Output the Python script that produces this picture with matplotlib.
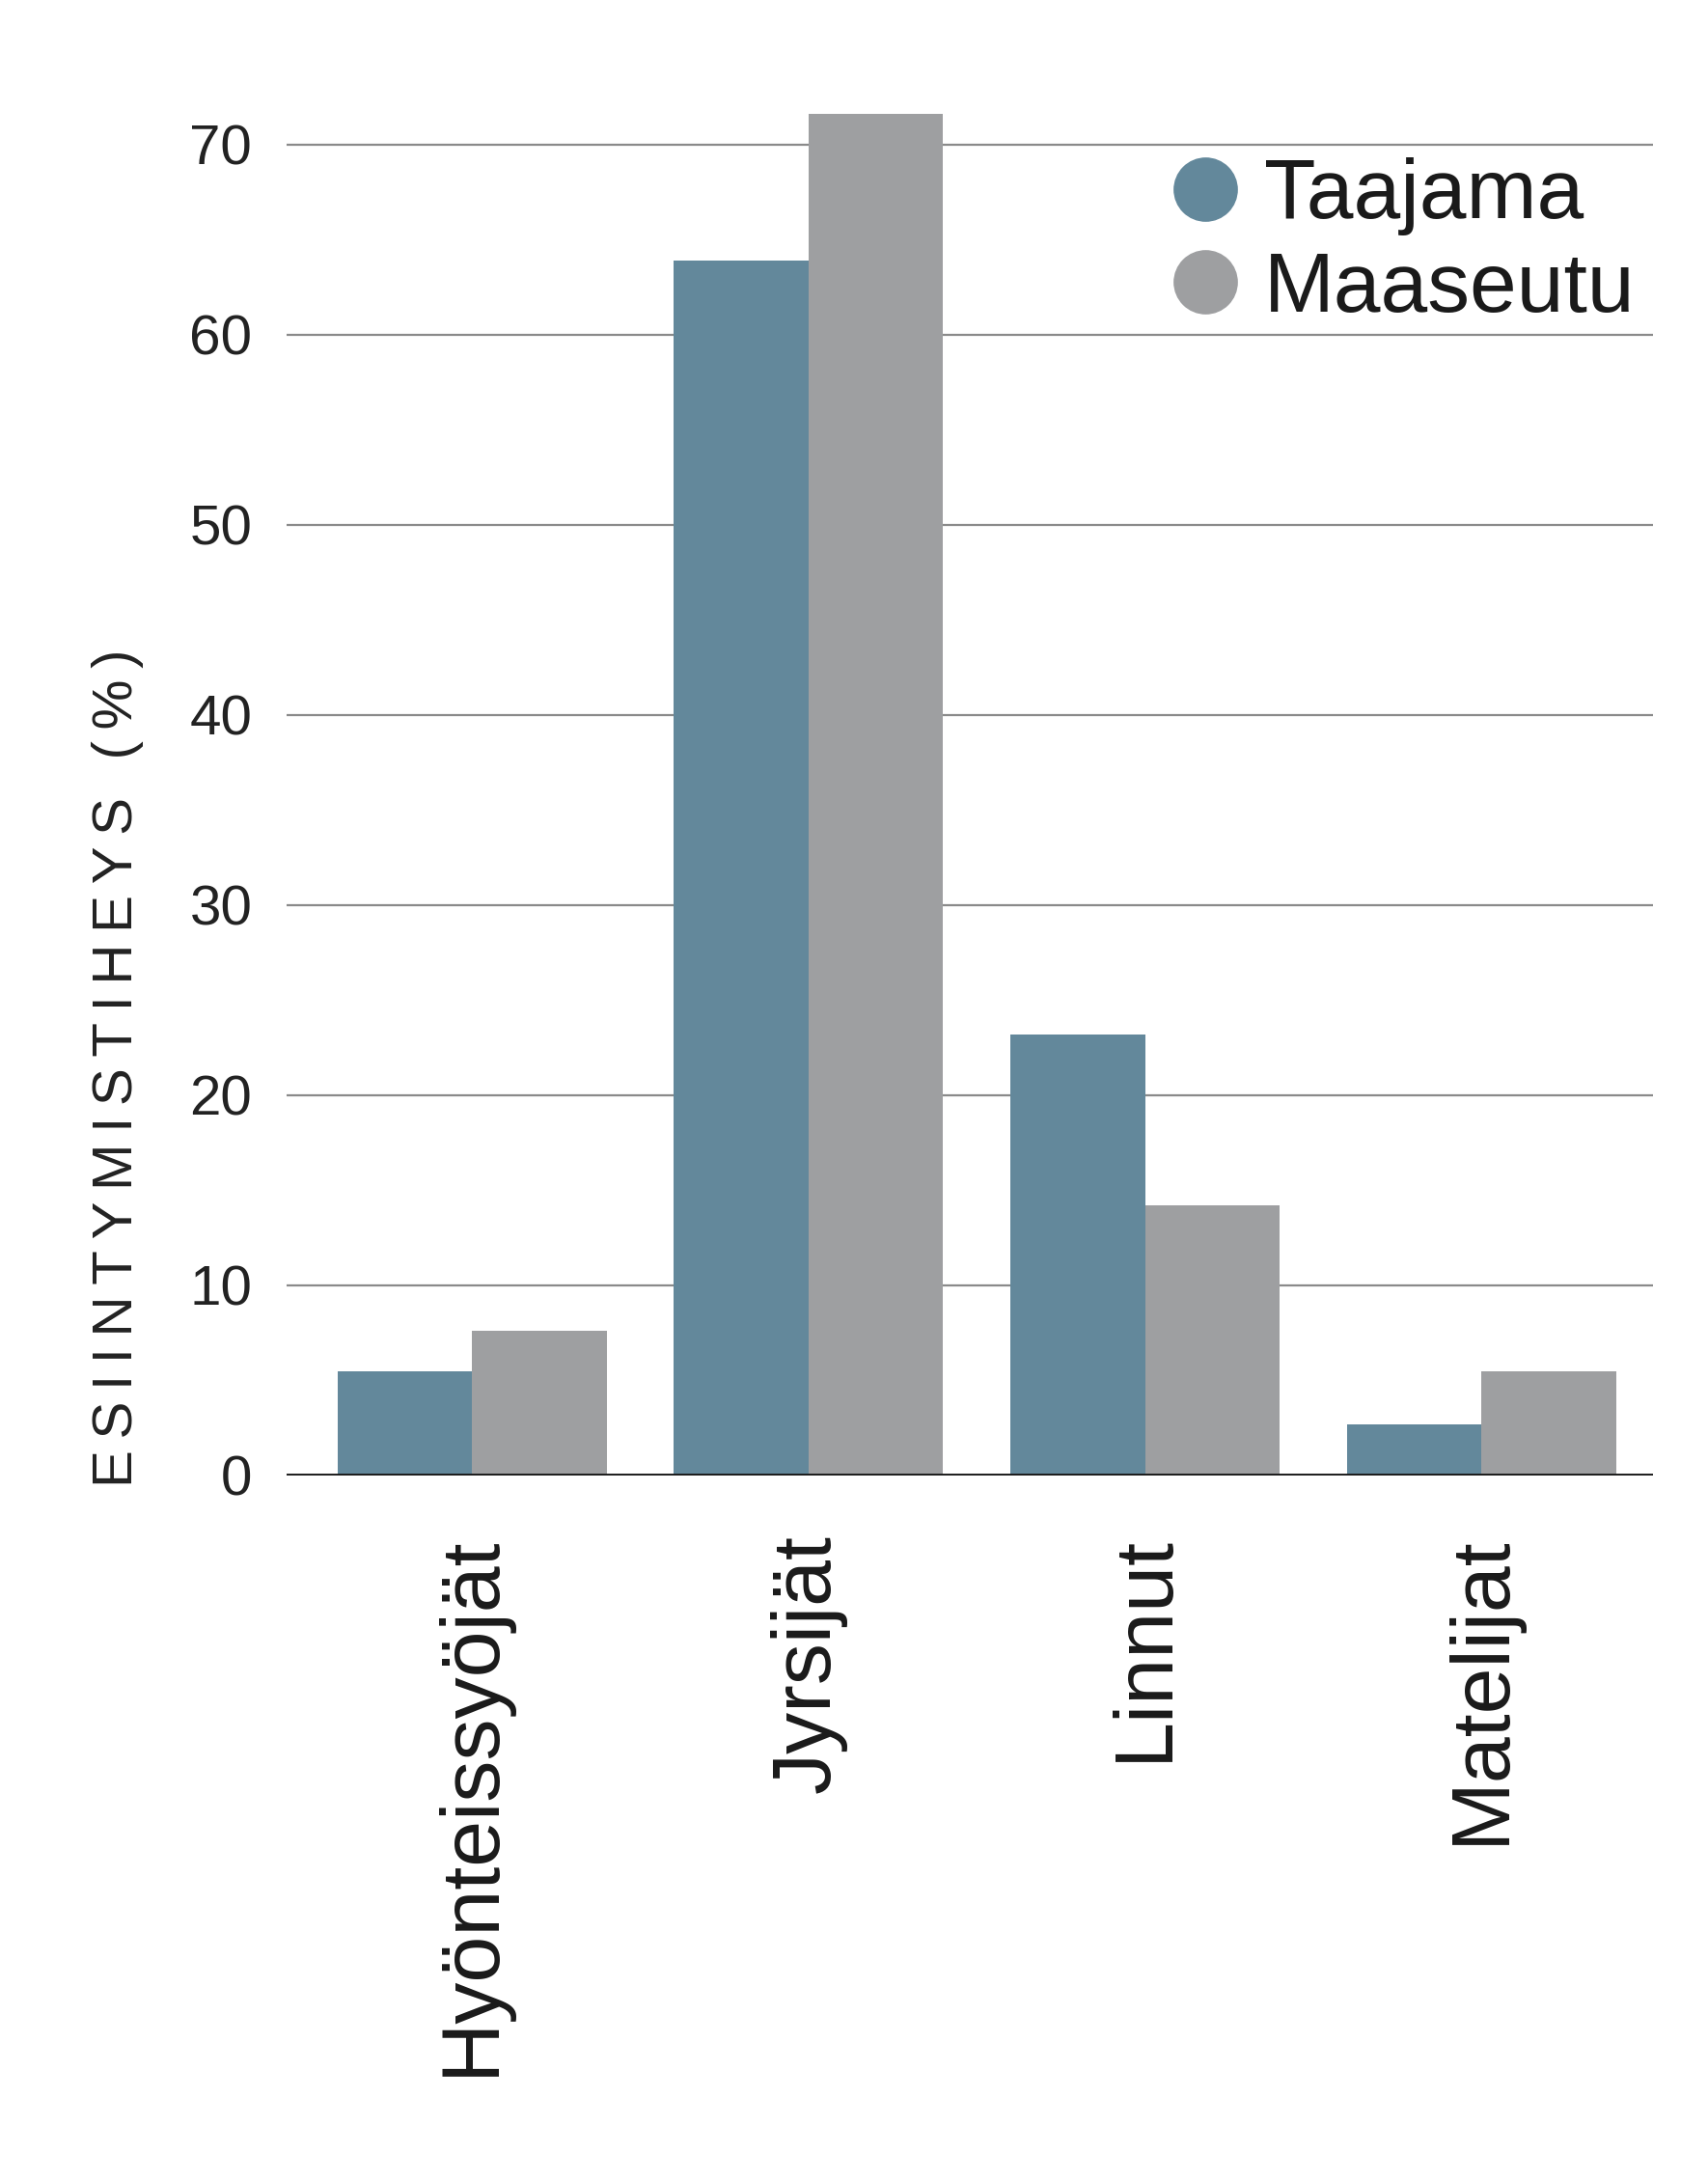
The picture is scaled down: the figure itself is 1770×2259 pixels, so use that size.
import matplotlib.pyplot as plt
import numpy as np
from matplotlib.lines import Line2D

plt.rcParams['font.family'] = ['Liberation Sans', 'DejaVu Sans']

# aineisto (luettu kuvasta)
ryhmat = ['Hyönteissyöjät', 'Jyrsijät', 'Linnut', 'Matelijat']
taajama = [5.5, 63.9, 23.2, 2.7]
maaseutu = [7.6, 71.6, 14.2, 5.5]
sarjat = ['Taajama', 'Maaseutu']
varit = ['#63889b', '#9e9fa1']
ylabel = 'ESIINTYMISTIHEYS (%)'

fig = plt.figure(figsize=(17.7, 22.59), dpi=100)
ax = fig.add_axes([0.168, 0.3232, 0.800, 0.628])

x = np.arange(len(ryhmat))
w = 0.4
ax.bar(x - w/2, taajama, w, color=varit[0], zorder=3)
ax.bar(x + w/2, maaseutu, w, color=varit[1], zorder=3)

ax.set_xlim(-0.55, 3.51)
ax.set_ylim(0, 72)
ax.set_yticks(range(0, 80, 10))
ax.yaxis.grid(True, color='#8a8a8a', linewidth=1.6, zorder=0)
ax.axhline(0, color='#1a1a1a', linewidth=3.5, zorder=4)
for s in ax.spines.values():
    s.set_visible(False)
ax.tick_params(axis='y', length=0, pad=26, labelsize=42, labelcolor='#222222')
ax.set_xticks(x)
ax.set_xticklabels(ryhmat, rotation=90, fontsize=62, va='top', ha='center')
ax.tick_params(axis='x', length=0, pad=44, labelcolor='#1a1a1a')

# harvennettu y-akselin otsikko
fig.text(0.0689, 0.3178, '\u2009'.join(ylabel), rotation=90, ha='center', va='bottom',
         fontsize=42, color='#222222')

kahvat = [Line2D([], [], marker='o', linestyle='', markersize=47, color=c) for c in varit]
ax.legend(kahvat, sarjat, loc='upper right', bbox_to_anchor=(0.987, 0.951),
          bbox_transform=fig.transFigure, frameon=False,
          fontsize=63, labelspacing=0.18, handletextpad=0.2,
          borderpad=0.1, handlelength=1.0, labelcolor='#1a1a1a')

plt.savefig('out.png', dpi=100)
